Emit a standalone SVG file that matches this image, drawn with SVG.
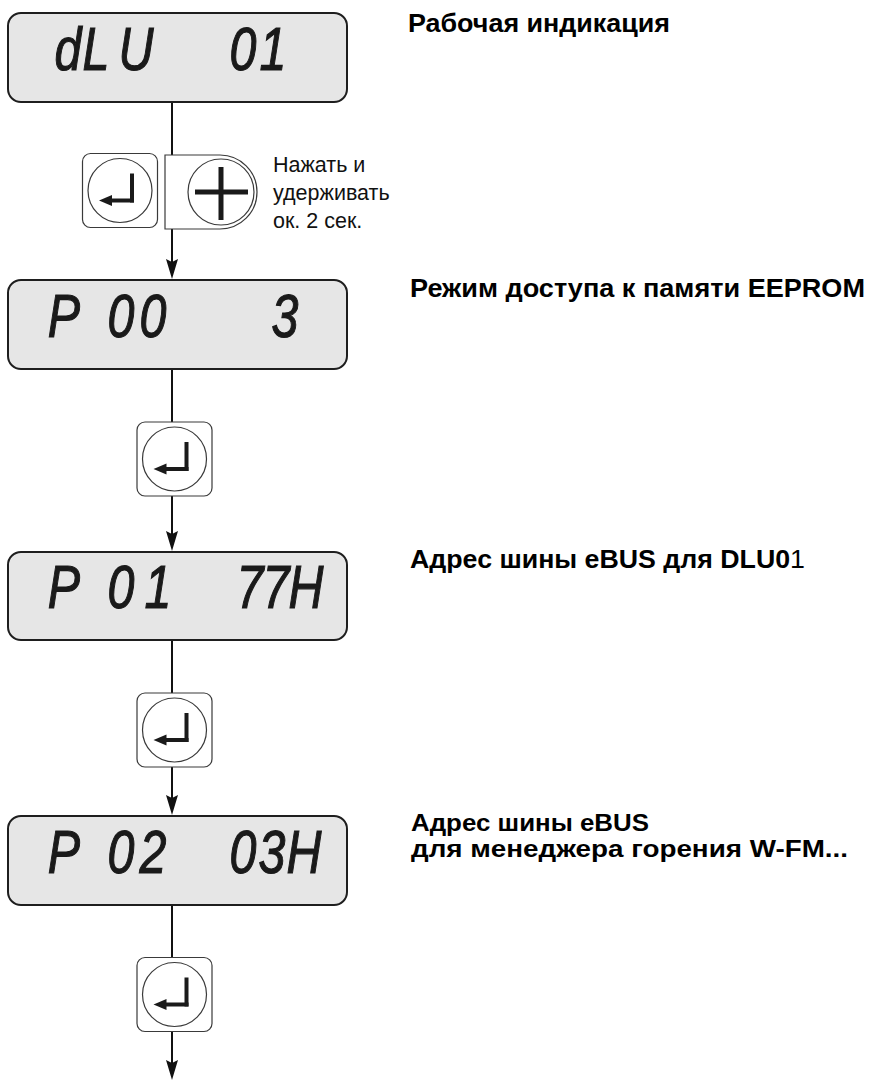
<svg xmlns="http://www.w3.org/2000/svg" xmlns:xlink="http://www.w3.org/1999/xlink" width="869" height="1082" viewBox="0 0 869 1082">
<style>
.disp{fill:#e6e6e6;stroke:#1e1e1e;stroke-width:2}
.lcd{font-family:"Liberation Sans",Arial,sans-serif;font-style:italic;font-size:62px;fill:#1a1a1a;stroke:#1a1a1a;stroke-width:1.2;text-anchor:middle}
.btn{fill:#ffffff;stroke:#3a3a3a;stroke-width:1.2}
.ring{fill:#ffffff;stroke:#3a3a3a;stroke-width:1.2}
.glyph{fill:#1a1a1a}
.conn{stroke:#111;stroke-width:2;fill:none}
.lbl{font-family:"Liberation Sans",Arial,sans-serif;font-weight:bold;font-size:25px;fill:#000}
.lbl2{font-family:"Liberation Sans",Arial,sans-serif;font-weight:bold;font-size:23px;fill:#000}
.note{font-family:"Liberation Sans",Arial,sans-serif;font-size:21.5px;fill:#111}
</style>
<defs>
<marker id="arr" viewBox="0 0 20 12" refX="16" refY="6" markerWidth="20" markerHeight="12" markerUnits="userSpaceOnUse" orient="auto">
<path d="M0,0 L20,6 L0,12 L3,6 Z" fill="#111"/>
</marker>
<g id="enterGlyph">
<circle class="ring" cx="0" cy="0" r="32"/>
<rect class="glyph" x="10" y="-17" width="4" height="29"/>
<rect class="glyph" x="-9" y="8" width="23" height="4"/>
<polygon class="glyph" points="-21,10 -8,4.5 -8,15.5"/>
</g>
<g id="enterBtn">
<rect class="btn" x="-37.5" y="-37" width="75" height="74" rx="8"/>
<use xlink:href="#enterGlyph"/>
</g>
</defs>
<rect width="869" height="1082" fill="#ffffff"/>

<g id="connectors">
<line class="conn" x1="172" y1="102" x2="172" y2="155"/>
<line class="conn" x1="172" y1="229" x2="172" y2="275" marker-end="url(#arr)"/>
<line class="conn" x1="172" y1="369" x2="172" y2="422"/>
<line class="conn" x1="172" y1="496" x2="172" y2="547" marker-end="url(#arr)"/>
<line class="conn" x1="172" y1="640" x2="172" y2="693"/>
<line class="conn" x1="172" y1="767" x2="172" y2="811" marker-end="url(#arr)"/>
<line class="conn" x1="172" y1="905" x2="172" y2="958"/>
<line class="conn" x1="172" y1="1031" x2="172" y2="1076" marker-end="url(#arr)"/>
</g>

<g id="display1">
<rect class="disp" x="8" y="13" width="339" height="89" rx="13"/>
<text class="lcd" transform="translate(0,70) scale(0.78,1)"><tspan x="87.18" y="0">d</tspan><tspan x="123.08">L</tspan><tspan x="174.36">U</tspan><tspan x="311.54">0</tspan><tspan x="350">1</tspan></text>
</g>
<g id="label1">
<text class="lbl" x="408" y="32" textLength="262" lengthAdjust="spacingAndGlyphs">Рабочая индикация</text>
</g>

<g id="buttonEnter1">
<use xlink:href="#enterBtn" transform="translate(120,190.5)"/>
</g>
<g id="buttonPlus">
<path class="btn" d="M165,155 H220 A37,37 0 0 1 220,229 H165 Z"/>
<circle class="ring" cx="221" cy="192" r="33"/>
<rect class="glyph" x="218.5" y="167" width="5" height="53"/>
<rect class="glyph" x="195" y="189.5" width="53" height="5"/>
</g>
<g id="note">
<text class="note" x="273" y="172">Нажать и</text>
<text class="note" x="273" y="200">удерживать</text>
<text class="note" x="273" y="228">ок. 2 сек.</text>
</g>

<g id="display2">
<rect class="disp" x="8" y="280" width="339" height="89" rx="13"/>
<text class="lcd" transform="translate(0,337) scale(0.78,1)"><tspan x="82.05" y="0">P</tspan><tspan x="155.13">0</tspan><tspan x="196.15">0</tspan><tspan x="365.38">3</tspan></text>
</g>
<g id="label2">
<text class="lbl" x="410" y="297" textLength="455" lengthAdjust="spacingAndGlyphs">Режим доступа к памяти EEPROM</text>
</g>

<g id="buttonEnter2">
<use xlink:href="#enterBtn" transform="translate(174.5,459)"/>
</g>

<g id="display3">
<rect class="disp" x="8" y="552" width="339" height="88" rx="13"/>
<text class="lcd" transform="translate(0,608) scale(0.78,1)"><tspan x="82.05" y="0">P</tspan><tspan x="155.13">0</tspan><tspan x="202.56">1</tspan><tspan x="320.51">7</tspan><tspan x="353.85">7</tspan><tspan x="392.31">H</tspan></text>
</g>
<g id="label3">
<text class="lbl" x="410" y="568" textLength="395" lengthAdjust="spacingAndGlyphs">Адрес шины eBUS для DLU0<tspan font-weight="normal">1</tspan></text>
</g>

<g id="buttonEnter3">
<use xlink:href="#enterBtn" transform="translate(174.5,730)"/>
</g>

<g id="display4">
<rect class="disp" x="8" y="816" width="339" height="89" rx="13"/>
<text class="lcd" transform="translate(0,873) scale(0.78,1)"><tspan x="82.05" y="0">P</tspan><tspan x="155.13">0</tspan><tspan x="196.15">2</tspan><tspan x="311.54">0</tspan><tspan x="348.72">3</tspan><tspan x="389.74">H</tspan></text>
</g>
<g id="label4">
<text class="lbl2" x="411" y="831" textLength="238" lengthAdjust="spacingAndGlyphs">Адрес шины eBUS</text>
<text class="lbl2" x="411" y="857" textLength="437" lengthAdjust="spacingAndGlyphs">для менеджера горения W-FM...</text>
</g>

<g id="buttonEnter4">
<use xlink:href="#enterBtn" transform="translate(174.5,994.5)"/>
</g>
</svg>
